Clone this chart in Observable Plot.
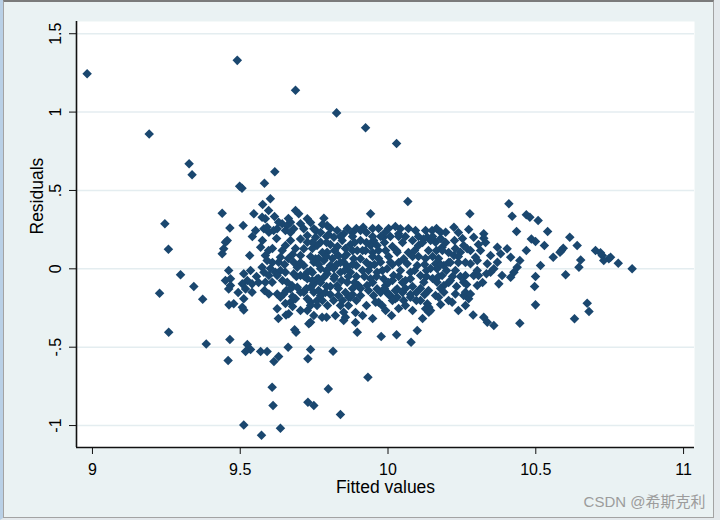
<!DOCTYPE html>
<html>
<head>
<meta charset="utf-8">
<script src="https://cdn.jsdelivr.net/npm/d3@7"></script>
<script src="https://cdn.jsdelivr.net/npm/@observablehq/plot@0.6"></script>
<style>
html,body{margin:0;padding:0;background:#eaf2f3;}
#wrap{position:relative;width:720px;height:520px;overflow:hidden;background:#eaf2f3;}
#wrap svg{position:absolute;left:0;top:0;}
#frame1{position:absolute;left:0;top:0;width:720px;height:520px;box-sizing:border-box;border-left:3px solid #b9d0e6;border-right:6px solid #e4e9ec;border-bottom:2px solid #e4e9ec;pointer-events:none;}
#frame2{position:absolute;left:3px;top:0;width:711px;height:518px;box-sizing:border-box;border:1px solid #a3a3a3;border-top:2px solid #7b7b7b;pointer-events:none;}
</style>
</head>
<body>
<div id="wrap"><div id="chart"></div><div id="frame1"></div><div id="frame2"></div></div>
<script>
// ---- data ----
const xTitle = "Fitted values";
const yTitle = "Residuals";
const watermark = "CSDN @希斯克利";
const xTicks = [9, 9.5, 10, 10.5, 11];
const xTickLabels = ["9", "9.5", "10", "10.5", "11"];
const yTicks = [-1, -0.5, 0, 0.5, 1, 1.5];
const yTickLabels = ["-1", "-.5", "0", ".5", "1", "1.5"];
const xDomain = [8.946, 11.037];
const yDomain = [-1.140, 1.578];

const fitted = [
8.982,9.490,9.687,9.826,9.924,10.029,9.192,9.327,9.337,9.617,9.498,9.506,9.582,9.602,9.576,9.439,9.245,9.465,9.510,9.257,
9.456,9.444,9.439,9.532,9.298,9.227,9.343,9.373,9.258,9.385,9.465,9.459,9.524,9.535,9.518,9.569,9.591,9.630,9.614,9.662,
9.738,9.729,9.608,9.611,9.729,9.749,9.798,9.512,9.572,9.636,9.839,9.932,9.814,9.896,9.977,10.029,10.099,10.078,10.012,9.684,
9.689,10.288,10.324,10.336,10.358,10.446,10.631,10.674,10.680,10.499,10.496,10.499,10.601,10.646,10.826,10.779,10.747,10.730,10.725,10.719,
10.702,10.753,10.652,10.640,10.615,10.587,10.593,10.582,10.559,10.529,10.540,10.508,10.468,10.480,10.485,10.499,10.468,10.446,10.516,10.409,
10.420,10.435,10.277,10.223,10.273,10.290,10.324,10.324,10.370,10.403,10.381,10.415,10.336,10.370,10.358,10.437,10.426,10.415,10.386,10.375,
10.347,10.256,10.273,10.262,10.279,10.217,10.228,10.302,10.290,10.302,10.262,10.256,10.245,10.268,10.256,10.296,10.279,10.302,10.223,10.206,
10.189,10.161,10.166,10.127,10.149,10.178,10.195,10.133,10.161,10.183,10.183,10.189,10.166,10.144,10.138,10.333,10.171,10.189,10.031,10.053,
10.076,10.110,10.133,10.127,10.138,9.968,9.980,9.958,9.867,9.850,9.850,9.856,9.792,9.777,9.828,10.067,9.941,9.783,9.794,9.916,
9.879,10.042,10.036,9.991,9.985,10.120,10.103,9.951,9.941,9.963,9.828,9.850,9.817,9.845,9.755,9.755,9.772,9.896,9.907,9.884,
10.031,10.053,10.065,10.076,10.076,10.059,10.099,10.110,10.121,9.975,10.008,9.997,9.963,10.019,9.985,10.031,9.794,9.783,9.805,9.772,
9.794,9.817,9.749,9.850,9.839,9.873,9.862,9.941,9.929,9.963,9.951,9.749,9.772,9.738,9.760,9.749,9.738,9.873,10.008,10.025,
9.997,9.546,9.574,9.585,9.552,9.580,9.597,9.591,9.625,9.642,9.659,9.670,9.681,9.653,9.687,9.698,9.727,9.704,9.715,9.450,
9.569,9.653,9.642,9.636,9.630,9.585,9.591,9.574,9.580,9.597,9.608,9.619,9.636,9.653,9.461,9.467,9.450,9.467,9.461,9.512,
9.524,9.507,9.540,9.518,9.597,9.478,9.512,9.507,9.540,9.625,9.636,9.647,9.675,9.670,9.693,9.704,9.625,9.664,9.670,9.687,
9.727,9.738,9.727,9.732,9.715,9.738,9.749,9.727,9.760,9.681,9.693,9.715,9.704,9.738,9.704,9.715,9.727,9.704,9.727,9.749,
9.760,9.755,9.613,9.630,9.655,9.760,9.625,9.681,9.727,9.783,9.585,9.659,9.462,9.512,
9.772,9.799,9.863,9.805,9.829,9.856,9.873,9.744,9.778,9.832,9.860,9.765,9.812,9.839,9.744,9.816,9.863,9.765,9.843,9.792,
9.744,9.880,9.893,9.893,9.914,9.927,9.924,9.907,9.927,9.968,10.008,10.015,9.948,9.992,9.968,10.036,9.941,9.992,10.015,10.042,
10.049,10.083,10.096,10.069,10.083,10.093,10.137,10.127,10.144,10.151,10.137,10.164,10.195,10.205,10.225,10.238,10.211,10.198,10.228,10.245,
10.096,10.059,10.083,10.036,10.117,9.992,9.927,9.907,9.890,9.816,9.795,9.822,9.704,9.677,9.653,9.629,
9.907,9.948,10.025,10.059,10.144,10.178,10.228,10.211,10.171,10.103,10.262,10.313,10.330,10.347,10.306,10.320,10.262,10.238,10.205,10.178,
10.161,10.025,10.049,10.059,9.975,9.934,9.900,9.856,9.832,9.778,9.788,9.805,9.765,9.839,9.866,9.914,9.948,9.890,9.704,9.687,
9.670,9.663,9.609,9.609,9.535,9.555,9.493,9.596,9.616,9.663,9.738,9.778,
9.805,9.893,9.948,10.002,10.069,10.164,
9.792,9.839,9.880,9.975,10.036,10.103,10.151,
9.744,9.792,9.887,9.927,9.988,10.049,10.117,
9.819,9.880,9.914,9.968,10.029,10.090,10.184,
9.738,9.792,9.853,9.948,10.002,10.083,10.151,10.238,
9.765,9.826,9.880,9.954,10.015,10.124,10.178,
9.792,9.853,9.934,9.981,10.090,10.130,
9.717,9.819,9.866,9.920,9.961,10.036,10.130,10.171,10.218,
9.772,9.887,9.948,10.002,10.205,
9.724,9.832,9.907,9.988,10.110,10.178,
9.805,9.880,10.002,10.076,10.124,
9.846,9.893,10.015,
9.541,9.575,9.623,9.670,9.596,9.677,9.650,9.690,9.602,9.562,9.643,9.582,9.677,9.656,
10.252,10.306,10.279,10.238,10.232,10.266
];
const resid = [
1.245,1.330,1.140,0.995,0.900,0.800,0.860,0.670,0.600,0.620,0.527,0.514,0.546,0.447,0.410,0.355,0.287,0.260,0.276,0.125,
0.180,0.128,0.096,0.085,-0.038,-0.156,-0.113,-0.194,-0.405,-0.479,-0.451,-0.585,-0.483,-0.515,-0.528,-0.528,-0.528,-0.560,-0.592,-0.500,
-0.515,-0.574,-0.756,-0.872,-0.851,-0.872,-0.766,-0.996,-1.062,-1.017,-0.930,-0.692,-0.526,-0.405,-0.432,-0.421,-0.394,-0.468,-0.298,-0.389,
-0.405,-0.294,-0.309,-0.341,-0.362,-0.347,-0.319,-0.220,-0.272,-0.230,-0.113,-0.049,-0.038,0.010,0.000,0.036,0.064,0.053,0.085,0.102,
0.117,0.074,0.057,0.149,0.202,0.117,0.131,0.106,0.074,0.149,0.238,0.308,0.345,0.329,0.191,0.174,0.117,0.053,0.021,0.415,
0.336,0.238,0.351,0.265,0.251,0.202,0.223,0.195,0.138,0.128,0.096,0.074,0.032,0.042,0.000,0.010,-0.022,-0.054,-0.043,-0.096,
-0.022,-0.170,-0.191,-0.149,-0.160,-0.213,-0.160,-0.107,-0.043,-0.011,-0.043,-0.086,0.106,0.128,0.149,0.074,0.032,0.053,0.085,0.042,
0.021,0.032,0.000,0.244,0.244,0.234,0.234,0.202,0.170,0.138,-0.043,-0.107,-0.086,-0.266,-0.245,-0.032,-0.181,-0.149,-0.181,-0.202,
-0.181,-0.202,-0.223,-0.255,-0.277,-0.213,-0.234,-0.213,-0.181,-0.277,-0.330,-0.309,-0.309,-0.309,-0.107,0.430,0.351,0.323,0.276,0.265,
0.230,0.255,0.223,0.234,0.202,0.191,0.149,0.181,0.149,0.149,0.244,0.223,0.202,0.181,0.244,0.202,0.170,0.117,0.064,0.064,
0.106,0.064,0.032,-0.022,-0.064,-0.075,0.021,-0.043,-0.086,0.042,0.042,0.000,-0.022,-0.043,-0.064,-0.128,0.106,0.053,0.021,0.000,
-0.032,-0.064,0.042,0.042,-0.022,-0.022,-0.086,-0.064,-0.107,-0.128,-0.170,-0.149,-0.170,-0.213,-0.234,-0.298,-0.341,-0.181,-0.170,-0.191,
-0.149,0.351,0.329,0.319,0.244,0.255,0.234,0.265,0.255,0.287,0.276,0.297,0.255,0.244,0.372,0.351,0.319,0.287,0.255,0.170,
0.138,0.149,0.117,0.074,0.042,0.085,0.053,0.010,-0.022,-0.043,-0.086,-0.022,-0.011,-0.022,-0.011,-0.064,-0.075,-0.107,-0.128,-0.032,
-0.075,-0.096,-0.096,-0.128,-0.160,-0.223,-0.191,-0.245,-0.149,-0.160,-0.181,-0.160,-0.107,-0.128,-0.117,-0.149,-0.255,-0.287,-0.213,-0.191,
-0.191,-0.234,-0.266,-0.351,-0.149,-0.117,-0.096,-0.064,-0.064,0.042,0.010,0.021,-0.043,-0.011,0.085,0.128,0.170,0.191,0.212,0.255,
0.149,0.064,0.244,0.297,-0.294,-0.202,-0.043,-0.032,-0.022,-0.054,-0.086,-0.086,-0.230,-0.262,
0.232,0.219,0.257,0.155,0.142,0.130,0.155,0.130,0.104,0.085,0.091,0.066,0.066,0.040,-0.024,0.002,0.015,-0.062,-0.075,-0.113,
-0.075,-0.126,-0.049,0.021,-0.011,0.040,0.117,0.181,0.232,0.257,0.206,0.142,0.104,0.117,0.066,0.040,0.021,-0.107,-0.075,-0.011,
-0.087,-0.113,-0.151,0.104,0.181,0.244,0.117,0.066,0.002,-0.062,-0.138,0.117,0.168,0.104,0.181,0.232,-0.075,-0.011,-0.011,-0.049,
-0.202,-0.234,-0.266,-0.253,-0.317,-0.266,-0.234,-0.170,-0.279,-0.202,-0.234,-0.298,-0.266,-0.240,-0.221,-0.317,
0.244,0.206,0.270,0.206,0.181,0.193,0.130,0.040,0.066,0.079,0.040,0.117,0.168,0.085,-0.043,-0.087,-0.234,-0.266,-0.202,-0.228,
-0.170,-0.138,-0.151,-0.126,-0.151,-0.138,-0.107,-0.151,-0.170,-0.202,-0.151,-0.113,-0.138,-0.234,-0.234,-0.298,-0.317,-0.343,0.040,0.130,
0.181,0.066,0.040,0.130,-0.011,-0.049,-0.151,0.372,0.334,0.321,0.295,0.283,
0.257,0.257,0.257,0.257,0.257,0.257,
0.206,0.206,0.206,0.206,0.206,0.206,0.206,
0.168,0.168,0.168,0.168,0.168,0.168,0.168,
0.117,0.117,0.117,0.117,0.117,0.117,0.117,
0.078,0.078,0.078,0.078,0.078,0.078,0.078,0.078,
0.027,0.027,0.027,0.027,0.027,0.027,0.027,
-0.011,-0.011,-0.011,-0.011,-0.011,-0.011,
-0.049,-0.049,-0.049,-0.049,-0.049,-0.049,-0.049,-0.049,-0.049,
-0.087,-0.087,-0.087,-0.087,-0.087,
-0.126,-0.126,-0.126,-0.126,-0.126,-0.126,
-0.164,-0.164,-0.164,-0.164,-0.164,
-0.202,-0.202,-0.202,
0.206,0.181,0.193,0.232,0.117,0.091,0.027,-0.049,0.002,-0.087,-0.075,-0.138,-0.177,-0.138,
0.193,0.155,0.117,0.040,-0.113,-0.100
];

const points = fitted.map((f, i) => ({fitted: f, resid: resid[i]}));

// filled diamond marker (square turned 45°), like Stata's default
const diamond = {
  draw(ctx, size) {
    const h = Math.sqrt(size / 2);
    ctx.moveTo(0, -h); ctx.lineTo(h, 0); ctx.lineTo(0, h); ctx.lineTo(-h, 0); ctx.closePath();
  }
};

const chart = Plot.plot({
  width: 720,
  height: 520,
  marginLeft: 76,
  marginRight: 26,
  marginTop: 21,
  marginBottom: 73,
  style: {background: "transparent", fontFamily: "'Liberation Sans', Arial, sans-serif", color: "#000"},
  x: {domain: xDomain, axis: null, label: null},
  y: {domain: yDomain, axis: null, label: null},
  marks: [
    Plot.frame({fill: "white", stroke: null}),
    Plot.gridY(yTicks, {stroke: "#e4edf0", strokeOpacity: 1, strokeWidth: 1.5}),
    Plot.dot(points, {x: "fitted", y: "resid", symbol: diamond, r: 3.8, fill: "#1a476f", stroke: null}),
    Plot.ruleX([xDomain[0]], {stroke: "#111", strokeWidth: 1.6}),
    Plot.ruleY([yDomain[0]], {stroke: "#111", strokeWidth: 1.6}),
    Plot.axisX(xTicks, {tickSize: 7, tickPadding: 9, fontSize: 16, stroke: "#111", label: null,
      tickFormat: d => xTickLabels[xTicks.indexOf(d)]}),
    Plot.axisY(yTicks, {tickSize: 7, stroke: "#111", label: null, tickFormat: () => ""}),
    Plot.text(yTicks, {y: d => d, text: d => yTickLabels[yTicks.indexOf(d)], frameAnchor: "left",
      dx: -16, rotate: -90, textAnchor: "middle", lineAnchor: "bottom", fontSize: 16}),
    Plot.text([xTitle], {text: d => d, frameAnchor: "bottom", dy: 45.5, lineAnchor: "bottom", fontSize: 17.5}),
    Plot.text([yTitle], {text: d => d, frameAnchor: "left", dx: -34, rotate: -90, lineAnchor: "bottom", fontSize: 17.5}),
    Plot.text([watermark], {text: d => d, frameAnchor: "bottom-right", dx: 11, dy: 59, textAnchor: "end",
      lineAnchor: "bottom", fontSize: 15, fill: "#9c9c9c",
      fontFamily: "'Liberation Sans', 'Noto Sans CJK SC', sans-serif"})
  ]
});
document.getElementById("chart").appendChild(chart);
</script>
</body>
</html>
